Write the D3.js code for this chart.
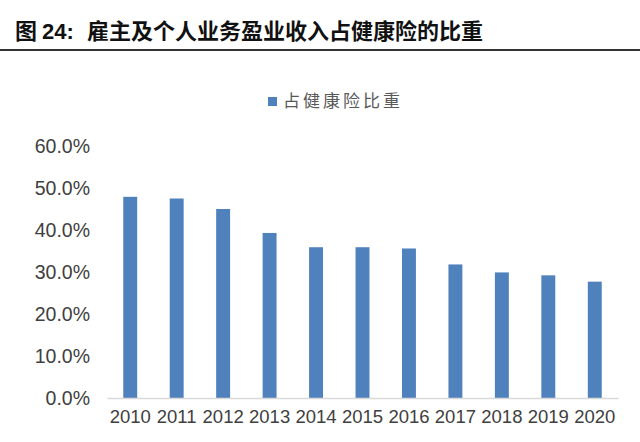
<!DOCTYPE html>
<meta charset="utf-8">
<title>雇主及个人业务盈业收入占健康险的比重</title>
<style>
  body { margin: 0; background: white; }
  svg { display: block; background: white; }
</style>
<body>
<script src="https://d3js.org/d3.v7.min.js"></script>
<script>
// data
const years = ["2010","2011","2012","2013","2014","2015","2016","2017","2018","2019","2020"];
const shares = [0.479, 0.475, 0.450, 0.393, 0.359, 0.359, 0.356, 0.318, 0.299, 0.292, 0.277];
const yTicks = [0, 0.1, 0.2, 0.3, 0.4, 0.5, 0.6];
const seriesName = "占健康险比重";
const titleText = "雇主及个人业务盈业收入占健康险的比重";

const W = 640, H = 442;
const svg = d3.select("body").append("svg")
    .attr("width", W).attr("height", H);

// title + rule underneath
const title = svg.append("text")
    .attr("x", 15).attr("y", 39)
    .style("font-weight", "bold")
    .style("fill", "#111");
title.append("tspan")
    .style("font-family", "'Noto Sans CJK SC'")
    .style("font-size", "22px")
    .text("图 ");
title.append("tspan")
    .style("font-family", "'Liberation Sans', Arial")
    .style("font-size", "22px")
    .text("24: ");
title.append("tspan")
    .style("font-family", "'Noto Sans CJK SC'")
    .style("font-size", "22px")
    .attr("x", 87)
    .text(titleText);

svg.append("line")
    .attr("x1", 0).attr("x2", W)
    .attr("y1", 50).attr("y2", 50)
    .attr("stroke", "#333").attr("stroke-width", 2);

// scales
const x = d3.scaleBand()
    .domain(years)
    .range([107, 618])
    .paddingInner(0.7)
    .paddingOuter(0.35);

const y = d3.scaleLinear()
    .domain([0, 0.6])
    .range([398, 146]);

// y axis labels (no axis line)
const yAxis = svg.append("g")
    .attr("transform", "translate(108,0)")
    .call(d3.axisLeft(y).tickValues(yTicks).tickFormat(d3.format(".1%")).tickSize(0).tickPadding(18));
yAxis.select(".domain").remove();
yAxis.selectAll("text")
    .style("font-family", "'Liberation Sans', Arial")
    .style("font-size", "19.5px")
    .style("fill", "#404040");

// bars
svg.append("g").selectAll("rect")
  .data(years)
  .join("rect")
    .attr("x", d => x(d))
    .attr("width", x.bandwidth())
    .attr("y", (d, i) => y(shares[i]))
    .attr("height", (d, i) => y(0) - y(shares[i]))
    .attr("fill", "#4f81bd");

// x axis
const xAxis = svg.append("g")
    .attr("transform", "translate(0,398)")
    .call(d3.axisBottom(x).tickSize(0).tickPadding(12));
xAxis.select(".domain")
    .attr("stroke", "#d9d9d9").attr("stroke-width", 1.5);
xAxis.selectAll("text")
    .style("font-family", "'Liberation Sans', Arial")
    .style("font-size", "18.5px")
    .style("fill", "#404040");

// legend
const lg = svg.append("g").attr("transform", "translate(268,97)");
lg.append("rect")
    .attr("width", 9).attr("height", 9)
    .attr("fill", "#4f81bd");
lg.append("text")
    .attr("x", 15).attr("y", 10)
    .style("font-family", "'Noto Sans CJK SC'")
    .style("font-size", "17px")
    .style("fill", "#595959")
    .style("letter-spacing", "3px")
    .text(seriesName);
</script>
</body>
